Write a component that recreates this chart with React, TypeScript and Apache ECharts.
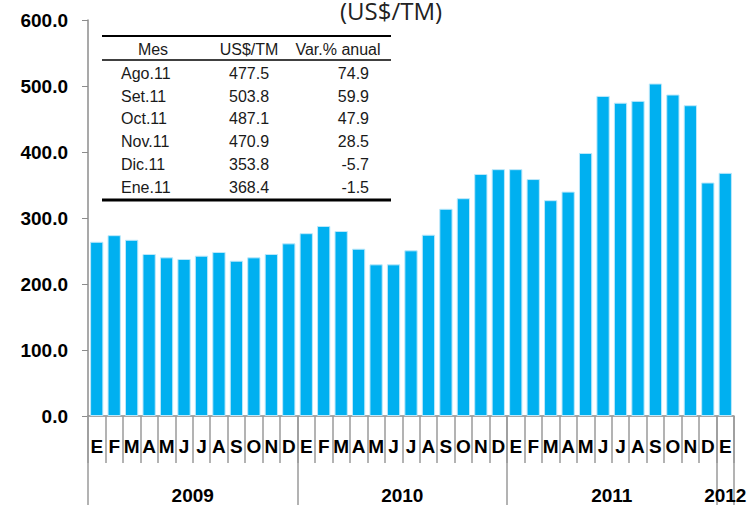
import React, { useEffect, useRef } from "react";
import * as echarts from "echarts";

const months = ["E","F","M","A","M","J","J","A","S","O","N","D","E","F","M","A","M","J","J","A","S","O","N","D","E","F","M","A","M","J","J","A","S","O","N","D","E"];
const prices = [
  264, 274, 267, 245.5, 240.4, 237.9, 242.9, 248.5, 235.3, 240.4, 245.5, 261.6,
  277, 287.9, 280.3, 253.5, 229.8, 229.8, 251, 274.7, 314, 330, 366.7, 374,
  374, 359, 327, 340, 398.5, 485, 474.7, 477.5, 503.8, 487.1, 470.9, 353.8,
  368.4,
];
const years = ["2009", "2010", "2011", "2012"];
const yearCenters = [6, 18, 30, 36.5];
const yearBounds = [0, 12, 24, 36, 37];
const yTicks = [0, 100, 200, 300, 400, 500, 600];

const tableHeader = ["Mes", "US$/TM", "Var.% anual"];
const tableMonths = ["Ago.11", "Set.11", "Oct.11", "Nov.11", "Dic.11", "Ene.11"];
const tablePrices = ["477.5", "503.8", "487.1", "470.9", "353.8", "368.4"];
const tableVar = ["74.9", "59.9", "47.9", "28.5", "-5.7", "-1.5"];

export default function App() {
  const ref = useRef<HTMLDivElement>(null);
  useEffect(() => {
    document.body.style.margin = "0";
    const chart = echarts.init(ref.current!, null, { renderer: "svg" });
    const font = "'Liberation Sans', Arial, sans-serif";
    const txt = "#1a1a1a";
    const graphics: any[] = [];
    graphics.push({
      type: "text", x: 391, y: 22,
      style: { text: "(US$/TM)", font: "24px 'Open Sans', sans-serif", fill: "#222", align: "center", verticalAlign: "bottom" },
    });
    graphics.push({ type: "line", shape: { x1: 102, y1: 36, x2: 391, y2: 36 }, style: { stroke: "#000", lineWidth: 2 } });
    graphics.push({ type: "line", shape: { x1: 102, y1: 60, x2: 391, y2: 60 }, style: { stroke: "#000", lineWidth: 1.5 } });
    graphics.push({ type: "line", shape: { x1: 102, y1: 200, x2: 391, y2: 200 }, style: { stroke: "#000", lineWidth: 3 } });
    const hx = [153, 249, 338];
    tableHeader.forEach((h, i) => {
      graphics.push({ type: "text", x: hx[i], y: 49, style: { text: h, font: `16px ${font}`, fill: txt, align: "center", verticalAlign: "middle" } });
    });
    tableMonths.forEach((m, i) => {
      const y = 73.5 + i * 22.7;
      graphics.push({ type: "text", x: 121, y, style: { text: m, font: `16px ${font}`, fill: txt, align: "left", verticalAlign: "middle" } });
      graphics.push({ type: "text", x: 249, y, style: { text: tablePrices[i], font: `16px ${font}`, fill: txt, align: "center", verticalAlign: "middle" } });
      graphics.push({ type: "text", x: 369, y, style: { text: tableVar[i], font: `16px ${font}`, fill: txt, align: "right", verticalAlign: "middle" } });
    });

    chart.setOption({
      animation: false,
      grid: { left: 88, right: 19, top: 20, bottom: 89, containLabel: false },
      xAxis: [
        {
          type: "category",
          data: months,
          position: "bottom",
          axisLine: { show: true, lineStyle: { color: "#8c8c8c", width: 1.5 } },
          axisTick: { show: true, interval: 0, length: 47, lineStyle: { color: "#9a9a9a", width: 1.5 } },
          axisLabel: { interval: 0, margin: 21, fontSize: 19, fontWeight: "bold", color: "#000", fontFamily: font },
        },
        {
          type: "value",
          min: 0,
          max: 37,
          position: "bottom",
          axisLine: { show: false },
          splitLine: { show: false },
          axisTick: { show: true, customValues: yearBounds, length: 89, lineStyle: { color: "#9a9a9a", width: 1.5 } },
          axisLabel: {
            customValues: yearCenters,
            margin: 70,
            fontSize: 19,
            fontWeight: "bold",
            color: "#000",
            fontFamily: font,
            formatter: (v: number) => years[yearCenters.indexOf(v)] ?? "",
          },
        },
      ],
      yAxis: {
        type: "value",
        min: yTicks[0],
        max: yTicks[yTicks.length - 1],
        interval: 100,
        axisLine: { show: true, lineStyle: { color: "#8c8c8c", width: 1.5 } },
        axisTick: { show: true, length: 6, lineStyle: { color: "#8c8c8c" } },
        splitLine: { show: false },
        axisLabel: { margin: 20, fontSize: 19, fontWeight: "bold", color: "#000", fontFamily: font, formatter: (v: number) => v.toFixed(1) },
      },
      series: [
        {
          type: "bar",
          data: prices,
          xAxisIndex: 0,
          barCategoryGap: "24%",
          itemStyle: { color: "#00B0F0", borderColor: "#BDE8FA", borderWidth: 1 },
        },
      ],
      graphic: graphics,
    });
    return () => chart.dispose();
  }, []);
  return <div ref={ref} style={{ width: 753, height: 505 }} />;
}
